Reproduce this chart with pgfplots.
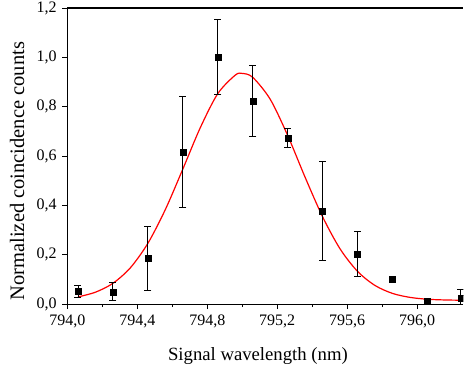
\documentclass[border=0pt]{standalone}
\usepackage{pgfplots}
\pgfplotsset{compat=1.18}
\usepackage{fontspec}
\setmainfont{Liberation Serif}
\begin{document}
\begin{tikzpicture}
\begin{axis}[
  scale only axis,
  width=396pt, height=296pt,
  xmin=794.0, xmax=796.265,
  ymin=0, ymax=1.2,
  axis x line*=box, axis y line*=left,
  axis line style={line width=1.1pt},
  xtick={794.0,794.4,794.8,795.2,795.6,796.0},
  ytick={0,0.2,0.4,0.6,0.8,1.0,1.2},
  minor x tick num=1,
  xtick pos=bottom, ytick pos=left,
  tick align=outside,
  major tick length=5pt, minor tick length=3pt,
  every tick/.style={black, line width=1pt},
  /pgf/number format/.cd, use comma, fixed, fixed zerofill, precision=1, assume math mode=true,
  /pgfplots/.cd,
  tick label style={font=\fontsize{16}{18}\selectfont, inner sep=0pt},
  xticklabel style={/pgf/number format/1000 sep={}, anchor=north, yshift=-6pt},
  yticklabel style={anchor=east, xshift=-5.5pt, inner ysep=1.5pt},
  xlabel={Signal wavelength (nm)},
  ylabel={Normalized coincidence counts},
  xlabel style={font=\fontsize{18.7}{22}\selectfont, inner sep=0pt, text depth=5pt,
     at={(axis description cs:0.481,-0.189)}, anchor=base},
  ylabel style={font=\fontsize{20.5}{24}\selectfont, inner sep=0pt, text height=24pt,
     at={(axis description cs:-0.1096,0.449)}, anchor=base, rotate=0},
  clip marker paths=true,
]
\addplot[red, line width=1.2pt, smooth, no markers] coordinates {
(794.06,0.029) (794.16,0.048) (794.26,0.084) (794.36,0.147) (794.46,0.246)
(794.56,0.383) (794.66,0.547) (794.76,0.715) (794.86,0.853) (794.96,0.928)
(795.00,0.935) (795.06,0.919) (795.16,0.830) (795.26,0.683) (795.36,0.513)
(795.46,0.353) (795.56,0.223) (795.66,0.132) (795.76,0.075) (795.86,0.043)
(795.96,0.027) (796.06,0.0195) (796.16,0.0166) (796.26,0.0155)
};
\addplot[black, only marks, mark=square*, mark size=3pt,
  error bars/.cd, y dir=both, y explicit,
  error bar style={line width=0.8pt, black},
  error mark options={rotate=90, black, mark size=3.5pt, line width=0.8pt}
] coordinates {
(794.06,0.051) +- (0,0.024)
(794.26,0.050) +- (0,0.036)
(794.46,0.184) +- (0,0.129)
(794.66,0.616) +- (0,0.226)
(794.86,1.000) +- (0,0.152)
(795.06,0.823) +- (0,0.143)
(795.26,0.674) +- (0,0.038)
(795.46,0.378) +- (0,0.199)
(795.66,0.203) +- (0,0.090)
(795.86,0.101) +- (0,0)
(796.06,0.011) +- (0,0)
(796.25,0.024) +- (0,0.035)
};
\end{axis}
\end{tikzpicture}
\end{document}
